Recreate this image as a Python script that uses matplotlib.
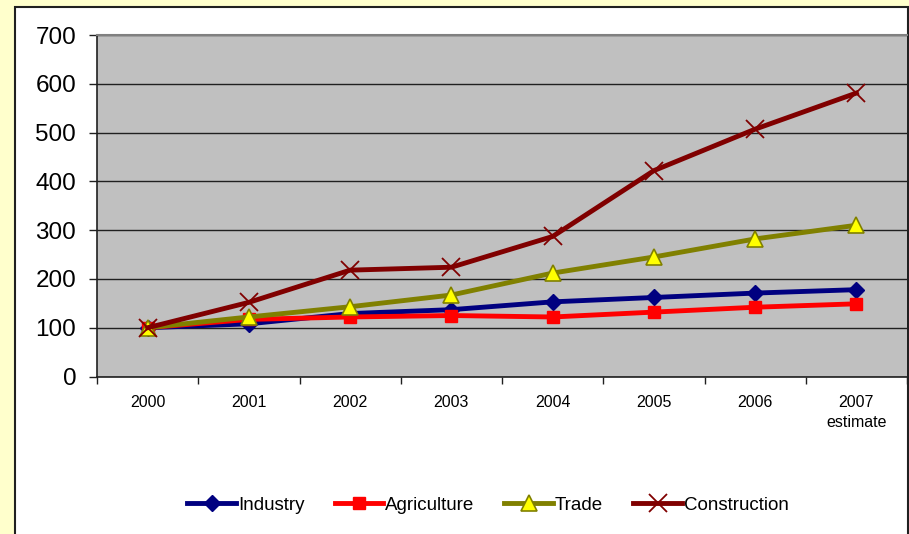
import matplotlib
matplotlib.use("Agg")
import matplotlib.pyplot as plt
from matplotlib.patches import Rectangle

years = ["2000", "2001", "2002", "2003", "2004", "2005", "2006", "2007\nestimate"]
industry = [100, 108, 129, 137, 153, 162, 171, 178]
agriculture = [100, 117, 122, 125, 122, 132, 142, 149]
trade = [100, 122, 143, 167, 212, 245, 282, 310]
construction = [100, 152, 218, 224, 287, 422, 507, 581]
yticks = [0, 100, 200, 300, 400, 500, 600, 700]

W, H = 909, 534
fig = plt.figure(figsize=(W / 100, H / 100), dpi=100, facecolor="#FFFFCC")

# white chart area
fig.patches.append(Rectangle((15 / W, -0.05), (W - 16) / W, 1.05 - 7 / H,
                             transform=fig.transFigure, facecolor="white",
                             edgecolor="#202020", linewidth=1.5, zorder=-5))

ax = fig.add_axes([97 / W, (H - 376.5) / H, 810 / W, (376.5 - 35) / H])
ax.set_zorder(2)
ax.set_facecolor("#C0C0C0")
x = list(range(len(years)))

ax.plot(x, industry, color="#000080", lw=3.5, marker="D", ms=8,
        mfc="#000080", mec="#000080", zorder=3, label="Industry")
ax.plot(x, agriculture, color="#FF0000", lw=3.5, marker="s", ms=9,
        mfc="#FF0000", mec="#FF0000", zorder=4, label="Agriculture")
ax.plot(x, trade, color="#808000", lw=3.5, marker="^", ms=12,
        mfc="#FFFF00", mec="#808000", mew=1.2, zorder=5, label="Trade")
ax.plot(x, construction, color="#800000", lw=3.5, marker="x", ms=13,
        mec="#800000", mew=1.3, zorder=6, label="Construction")

ax.set_xlim(-0.5, len(years) - 0.5)
ax.set_ylim(0, 700)
ax.set_yticks(yticks)
ax.set_yticklabels([str(v) for v in yticks], fontsize=17.5,
                   family=["Liberation Sans", "DejaVu Sans"])
ax.tick_params(axis="y", direction="out", length=6, width=1, color="#202020", pad=9)
ax.yaxis.grid(True, color="#202020", lw=1)
ax.set_axisbelow(True)

ax.set_xticks([i - 0.5 for i in range(len(years) + 1)])
ax.set_xticklabels([])
ax.tick_params(axis="x", which="major", direction="out", length=5, width=1, color="#202020")
ax.set_xticks(x, minor=True)
ax.set_xticklabels(years, minor=True, fontsize=11.5, linespacing=1.45,
                   family=["Liberation Sans", "DejaVu Sans"])
ax.tick_params(axis="x", which="minor", length=0, pad=13)

for s in ["left", "bottom"]:
    ax.spines[s].set_color("#202020")
    ax.spines[s].set_linewidth(1.2)
ax.spines["top"].set_color("#808080")
ax.spines["top"].set_linewidth(1.5)
ax.spines["right"].set_visible(False)

leg = fig.legend(loc="center", bbox_to_anchor=(488 / W, (H - 505) / H), ncol=4,
                 frameon=False, handlelength=2.6, handletextpad=0.1,
                 columnspacing=1.6,
                 prop={"family": ["Liberation Sans", "DejaVu Sans"], "size": 13.5})

fig.savefig("out.png", dpi=100, facecolor=fig.get_facecolor())
